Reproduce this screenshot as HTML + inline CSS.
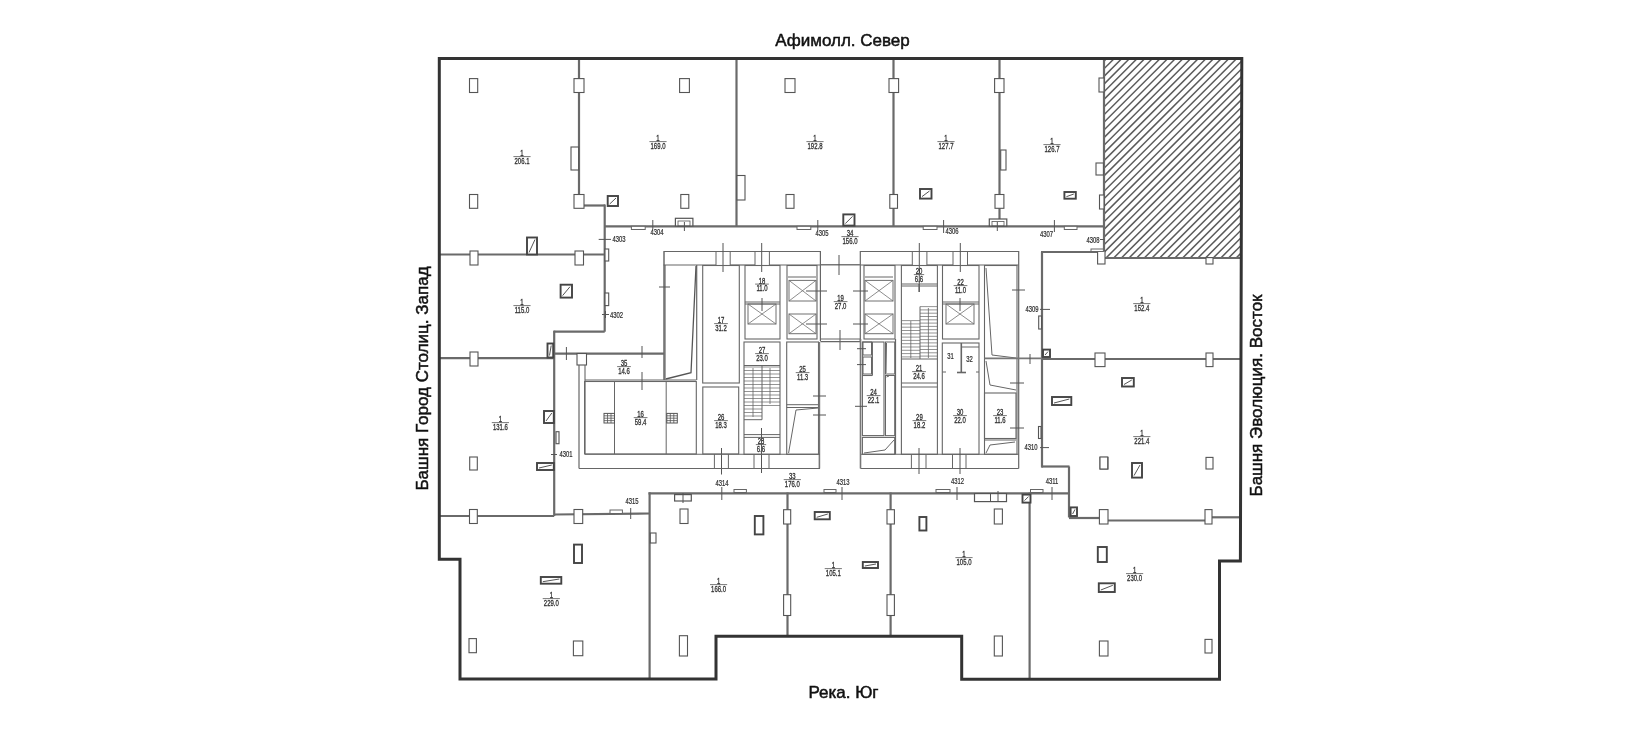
<!DOCTYPE html>
<html><head><meta charset="utf-8"><style>
html,body{margin:0;padding:0;background:#fff;width:1652px;height:749px;overflow:hidden}
svg{display:block;will-change:transform;font-family:"Liberation Sans",sans-serif}
</style></head><body><svg width="1652" height="749" viewBox="0 0 1652 749" font-family="Liberation Sans, sans-serif"><clipPath id="hc"><rect x="1104" y="58.5" width="137.5" height="199.5"/></clipPath><g clip-path="url(#hc)" stroke="#5a5a5a" stroke-width="1.5"><line x1="685.3" y1="258" x2="884.8" y2="58.5"/><line x1="692.9" y1="258" x2="892.4" y2="58.5"/><line x1="700.6" y1="258" x2="900.1" y2="58.5"/><line x1="708.2" y1="258" x2="907.7" y2="58.5"/><line x1="715.9" y1="258" x2="915.4" y2="58.5"/><line x1="723.5" y1="258" x2="923.0" y2="58.5"/><line x1="731.2" y1="258" x2="930.7" y2="58.5"/><line x1="738.8" y1="258" x2="938.3" y2="58.5"/><line x1="746.5" y1="258" x2="946.0" y2="58.5"/><line x1="754.1" y1="258" x2="953.6" y2="58.5"/><line x1="761.8" y1="258" x2="961.3" y2="58.5"/><line x1="769.4" y1="258" x2="968.9" y2="58.5"/><line x1="777.1" y1="258" x2="976.6" y2="58.5"/><line x1="784.7" y1="258" x2="984.2" y2="58.5"/><line x1="792.4" y1="258" x2="991.9" y2="58.5"/><line x1="800.0" y1="258" x2="999.5" y2="58.5"/><line x1="807.7" y1="258" x2="1007.2" y2="58.5"/><line x1="815.3" y1="258" x2="1014.8" y2="58.5"/><line x1="823.0" y1="258" x2="1022.5" y2="58.5"/><line x1="830.6" y1="258" x2="1030.1" y2="58.5"/><line x1="838.3" y1="258" x2="1037.8" y2="58.5"/><line x1="845.9" y1="258" x2="1045.4" y2="58.5"/><line x1="853.6" y1="258" x2="1053.1" y2="58.5"/><line x1="861.2" y1="258" x2="1060.7" y2="58.5"/><line x1="868.9" y1="258" x2="1068.4" y2="58.5"/><line x1="876.5" y1="258" x2="1076.0" y2="58.5"/><line x1="884.2" y1="258" x2="1083.7" y2="58.5"/><line x1="891.8" y1="258" x2="1091.3" y2="58.5"/><line x1="899.5" y1="258" x2="1099.0" y2="58.5"/><line x1="907.1" y1="258" x2="1106.6" y2="58.5"/><line x1="914.8" y1="258" x2="1114.3" y2="58.5"/><line x1="922.4" y1="258" x2="1121.9" y2="58.5"/><line x1="930.1" y1="258" x2="1129.6" y2="58.5"/><line x1="937.7" y1="258" x2="1137.2" y2="58.5"/><line x1="945.4" y1="258" x2="1144.9" y2="58.5"/><line x1="953.0" y1="258" x2="1152.5" y2="58.5"/><line x1="960.7" y1="258" x2="1160.2" y2="58.5"/><line x1="968.3" y1="258" x2="1167.8" y2="58.5"/><line x1="976.0" y1="258" x2="1175.5" y2="58.5"/><line x1="983.6" y1="258" x2="1183.1" y2="58.5"/><line x1="991.3" y1="258" x2="1190.8" y2="58.5"/><line x1="998.9" y1="258" x2="1198.4" y2="58.5"/><line x1="1006.6" y1="258" x2="1206.1" y2="58.5"/><line x1="1014.2" y1="258" x2="1213.7" y2="58.5"/><line x1="1021.9" y1="258" x2="1221.4" y2="58.5"/><line x1="1029.5" y1="258" x2="1229.0" y2="58.5"/><line x1="1037.2" y1="258" x2="1236.7" y2="58.5"/><line x1="1044.8" y1="258" x2="1244.3" y2="58.5"/><line x1="1052.5" y1="258" x2="1252.0" y2="58.5"/><line x1="1060.1" y1="258" x2="1259.6" y2="58.5"/><line x1="1067.8" y1="258" x2="1267.3" y2="58.5"/><line x1="1075.4" y1="258" x2="1274.9" y2="58.5"/><line x1="1083.1" y1="258" x2="1282.6" y2="58.5"/><line x1="1090.7" y1="258" x2="1290.2" y2="58.5"/><line x1="1098.4" y1="258" x2="1297.9" y2="58.5"/><line x1="1106.0" y1="258" x2="1305.5" y2="58.5"/><line x1="1113.7" y1="258" x2="1313.2" y2="58.5"/><line x1="1121.4" y1="258" x2="1320.9" y2="58.5"/><line x1="1129.0" y1="258" x2="1328.5" y2="58.5"/><line x1="1136.7" y1="258" x2="1336.2" y2="58.5"/><line x1="1144.3" y1="258" x2="1343.8" y2="58.5"/><line x1="1152.0" y1="258" x2="1351.5" y2="58.5"/><line x1="1159.6" y1="258" x2="1359.1" y2="58.5"/><line x1="1167.3" y1="258" x2="1366.8" y2="58.5"/><line x1="1174.9" y1="258" x2="1374.4" y2="58.5"/><line x1="1182.6" y1="258" x2="1382.1" y2="58.5"/><line x1="1190.2" y1="258" x2="1389.7" y2="58.5"/><line x1="1197.9" y1="258" x2="1397.4" y2="58.5"/><line x1="1205.5" y1="258" x2="1405.0" y2="58.5"/><line x1="1213.2" y1="258" x2="1412.7" y2="58.5"/><line x1="1220.8" y1="258" x2="1420.3" y2="58.5"/><line x1="1228.5" y1="258" x2="1428.0" y2="58.5"/><line x1="1236.1" y1="258" x2="1435.6" y2="58.5"/><line x1="1243.8" y1="258" x2="1443.3" y2="58.5"/></g><line x1="579" y1="58" x2="579" y2="205.5" stroke="#6a6a6a" stroke-width="2.2"/><line x1="579" y1="205.5" x2="605" y2="205.5" stroke="#6a6a6a" stroke-width="2.2"/><line x1="604.7" y1="204.5" x2="604.7" y2="331.7" stroke="#6a6a6a" stroke-width="2.2"/><line x1="553.7" y1="331.7" x2="604.7" y2="331.7" stroke="#6a6a6a" stroke-width="2.2"/><line x1="554.2" y1="330.7" x2="554.2" y2="516" stroke="#6a6a6a" stroke-width="2.2"/><line x1="439" y1="254.5" x2="604.7" y2="254.5" stroke="#6a6a6a" stroke-width="2.2"/><line x1="439" y1="358.2" x2="554" y2="358.2" stroke="#6a6a6a" stroke-width="2.2"/><line x1="439" y1="516" x2="554.2" y2="516" stroke="#6a6a6a" stroke-width="2.2"/><line x1="554.2" y1="514.5" x2="649.6" y2="513.5" stroke="#6a6a6a" stroke-width="2.2"/><line x1="649.6" y1="492.3" x2="649.6" y2="679" stroke="#6a6a6a" stroke-width="2.2"/><line x1="648.5" y1="493.3" x2="1069.5" y2="493.3" stroke="#6a6a6a" stroke-width="2.2"/><line x1="1069" y1="466.5" x2="1069" y2="517.5" stroke="#6a6a6a" stroke-width="2.2"/><line x1="1041.5" y1="466.5" x2="1069.5" y2="466.5" stroke="#6a6a6a" stroke-width="2.2"/><line x1="1042" y1="251.7" x2="1042" y2="467.5" stroke="#6a6a6a" stroke-width="2.2"/><line x1="1041" y1="252" x2="1104" y2="252" stroke="#6a6a6a" stroke-width="2.2"/><line x1="1069" y1="518" x2="1099.5" y2="518" stroke="#6a6a6a" stroke-width="2.2"/><line x1="1108" y1="520.5" x2="1205" y2="520.5" stroke="#6a6a6a" stroke-width="2.2"/><line x1="1212" y1="517.3" x2="1241" y2="517.3" stroke="#6a6a6a" stroke-width="2.2"/><line x1="1042" y1="359" x2="1241" y2="359" stroke="#6a6a6a" stroke-width="2.2"/><line x1="1029.6" y1="492.5" x2="1029.6" y2="679.4" stroke="#6a6a6a" stroke-width="2.2"/><line x1="890.6" y1="492.5" x2="890.6" y2="635.7" stroke="#6a6a6a" stroke-width="2.2"/><line x1="787.5" y1="492.5" x2="787.5" y2="635.7" stroke="#6a6a6a" stroke-width="2.2"/><line x1="604.5" y1="226.3" x2="1104" y2="226.3" stroke="#6a6a6a" stroke-width="2.2"/><line x1="736.5" y1="58" x2="736.5" y2="226.3" stroke="#6a6a6a" stroke-width="2.2"/><line x1="893.5" y1="58" x2="893.5" y2="226.3" stroke="#6a6a6a" stroke-width="2.2"/><line x1="999.5" y1="58" x2="999.5" y2="226.3" stroke="#6a6a6a" stroke-width="2.2"/><line x1="1104" y1="58" x2="1104" y2="258" stroke="#6a6a6a" stroke-width="2.2"/><line x1="1104" y1="258" x2="1241" y2="258" stroke="#6a6a6a" stroke-width="2.2"/><line x1="553.7" y1="353.6" x2="664" y2="353.6" stroke="#6a6a6a" stroke-width="2.2"/><line x1="664" y1="251.5" x2="664" y2="380" stroke="#6a6a6a" stroke-width="1.5"/><polygon points="439.3,58.4 1241.8,58.4 1240.4,561 1219.5,561 1219.5,679.2 961.7,679.2 961.7,636.3 716,636.3 716,679 460,679 460,559.3 439.3,559.3" fill="none" stroke="#333" stroke-width="3.0" stroke-linejoin="miter"/><rect x="469.5" y="78.6" width="8.199999999999989" height="13.900000000000006" fill="#fff" stroke="#555" stroke-width="1.1"/><rect x="574" y="78.6" width="10" height="13.900000000000006" fill="#fff" stroke="#555" stroke-width="1.1"/><rect x="679.6" y="78.6" width="9.799999999999955" height="13.900000000000006" fill="#fff" stroke="#555" stroke-width="1.1"/><rect x="785" y="78.6" width="10" height="13.900000000000006" fill="#fff" stroke="#555" stroke-width="1.1"/><rect x="889" y="78.6" width="9.600000000000023" height="13.900000000000006" fill="#fff" stroke="#555" stroke-width="1.1"/><rect x="994.6" y="78.6" width="9.399999999999977" height="13.900000000000006" fill="#fff" stroke="#555" stroke-width="1.1"/><rect x="1099" y="78" width="5" height="14" fill="#fff" stroke="#555" stroke-width="1.1"/><rect x="469.5" y="194.5" width="8.199999999999989" height="13.800000000000011" fill="#fff" stroke="#555" stroke-width="1.1"/><rect x="574" y="194.5" width="10" height="13.800000000000011" fill="#fff" stroke="#555" stroke-width="1.1"/><rect x="680.8" y="194.5" width="8.0" height="13.800000000000011" fill="#fff" stroke="#555" stroke-width="1.1"/><rect x="786" y="194.5" width="8" height="13.800000000000011" fill="#fff" stroke="#555" stroke-width="1.1"/><rect x="889.8" y="194.5" width="7.7000000000000455" height="13.800000000000011" fill="#fff" stroke="#555" stroke-width="1.1"/><rect x="995" y="194.5" width="8.899999999999977" height="13.800000000000011" fill="#fff" stroke="#555" stroke-width="1.1"/><rect x="1099.5" y="195" width="4.5" height="14" fill="#fff" stroke="#555" stroke-width="1.1"/><rect x="470" y="251" width="8" height="14" fill="#fff" stroke="#555" stroke-width="1.1"/><rect x="575" y="251" width="8.5" height="14" fill="#fff" stroke="#555" stroke-width="1.1"/><rect x="470" y="352" width="8" height="14" fill="#fff" stroke="#555" stroke-width="1.1"/><rect x="577" y="353.5" width="9.5" height="11.5" fill="#fff" stroke="#555" stroke-width="1.1"/><rect x="469.7" y="457" width="7.600000000000023" height="13" fill="#fff" stroke="#555" stroke-width="1.1"/><rect x="469.5" y="509.5" width="7.800000000000011" height="14.0" fill="#fff" stroke="#555" stroke-width="1.1"/><rect x="574" y="509.5" width="8.700000000000045" height="14.0" fill="#fff" stroke="#555" stroke-width="1.1"/><rect x="469" y="638.6" width="7.399999999999977" height="14.100000000000023" fill="#fff" stroke="#555" stroke-width="1.1"/><rect x="573.4" y="641" width="9.399999999999977" height="14.700000000000045" fill="#fff" stroke="#555" stroke-width="1.1"/><rect x="680" y="509" width="8" height="14.5" fill="#fff" stroke="#555" stroke-width="1.1"/><rect x="679.4" y="635.7" width="8.100000000000023" height="20.299999999999955" fill="#fff" stroke="#555" stroke-width="1.1"/><rect x="783.6" y="509.7" width="7.100000000000023" height="14.300000000000011" fill="#fff" stroke="#555" stroke-width="1.1"/><rect x="783.6" y="594.7" width="7.100000000000023" height="20.799999999999955" fill="#fff" stroke="#555" stroke-width="1.1"/><rect x="887" y="509.7" width="7.399999999999977" height="14.300000000000011" fill="#fff" stroke="#555" stroke-width="1.1"/><rect x="887" y="594.7" width="7.399999999999977" height="20.799999999999955" fill="#fff" stroke="#555" stroke-width="1.1"/><rect x="994.3" y="509" width="8.100000000000023" height="15" fill="#fff" stroke="#555" stroke-width="1.1"/><rect x="994.3" y="636" width="8.100000000000023" height="20" fill="#fff" stroke="#555" stroke-width="1.1"/><rect x="1099.4" y="509.6" width="8.599999999999909" height="14.399999999999977" fill="#fff" stroke="#555" stroke-width="1.1"/><rect x="1205" y="509.6" width="7" height="14.399999999999977" fill="#fff" stroke="#555" stroke-width="1.1"/><rect x="1099.4" y="641" width="8.599999999999909" height="15" fill="#fff" stroke="#555" stroke-width="1.1"/><rect x="1205" y="639.4" width="7" height="13.600000000000023" fill="#fff" stroke="#555" stroke-width="1.1"/><rect x="1097.6" y="251" width="7.400000000000091" height="13" fill="#fff" stroke="#555" stroke-width="1.1"/><rect x="1206" y="257.6" width="7" height="6.399999999999977" fill="#fff" stroke="#555" stroke-width="1.1"/><rect x="1095" y="353" width="10" height="13.600000000000023" fill="#fff" stroke="#555" stroke-width="1.1"/><rect x="1206" y="353" width="7" height="13.600000000000023" fill="#fff" stroke="#555" stroke-width="1.1"/><rect x="1100" y="457.4" width="8" height="11.600000000000023" fill="#fff" stroke="#555" stroke-width="1.1"/><rect x="1206" y="457.4" width="7" height="11.600000000000023" fill="#fff" stroke="#555" stroke-width="1.1"/><rect x="1100" y="457" width="7.7000000000000455" height="12" fill="#fff" stroke="#555" stroke-width="1.1"/><rect x="571" y="147" width="7.600000000000023" height="23" fill="#fff" stroke="#555" stroke-width="1.1"/><rect x="737" y="175.5" width="8" height="24.5" fill="#fff" stroke="#555" stroke-width="1.1"/><rect x="1000.7" y="150" width="5.2999999999999545" height="20" fill="#fff" stroke="#555" stroke-width="1.1"/><rect x="1096" y="163" width="7.400000000000091" height="12" fill="#fff" stroke="#555" stroke-width="1.1"/><rect x="605" y="249" width="3.7000000000000455" height="12" fill="#fff" stroke="#555" stroke-width="1.1"/><rect x="605" y="293" width="3.7000000000000455" height="12.600000000000023" fill="#fff" stroke="#555" stroke-width="1.1"/><rect x="547.5" y="343.5" width="5.7000000000000455" height="14.0" fill="#fff" stroke="#444" stroke-width="1.9"/><line x1="549.5" y1="355.5" x2="551.2" y2="345.5" stroke="#555" stroke-width="1"/><rect x="556" y="431.7" width="3" height="12.0" fill="#fff" stroke="#555" stroke-width="1.1"/><rect x="1038.7" y="316" width="2.7999999999999545" height="13" fill="#fff" stroke="#555" stroke-width="1.1"/><rect x="1038.5" y="426.5" width="2.5" height="12.0" fill="#fff" stroke="#555" stroke-width="1.1"/><rect x="650.3" y="533" width="5.7000000000000455" height="10" fill="#fff" stroke="#555" stroke-width="1.1"/><rect x="607.7" y="196" width="10.299999999999955" height="10" fill="#fff" stroke="#444" stroke-width="1.9"/><line x1="609.7" y1="204" x2="616" y2="198" stroke="#555" stroke-width="1"/><rect x="920" y="189" width="11.5" height="9.599999999999994" fill="#fff" stroke="#444" stroke-width="1.9"/><line x1="922" y1="196.6" x2="929.5" y2="191" stroke="#555" stroke-width="1"/><rect x="1064.4" y="192" width="11.399999999999864" height="6.699999999999989" fill="#fff" stroke="#444" stroke-width="1.9"/><line x1="1066.4" y1="196.7" x2="1073.8" y2="194" stroke="#555" stroke-width="1"/><rect x="560.6" y="284.7" width="11.399999999999977" height="12.900000000000034" fill="#fff" stroke="#444" stroke-width="1.9"/><line x1="562.6" y1="295.6" x2="570" y2="286.7" stroke="#555" stroke-width="1"/><rect x="527" y="237.5" width="10" height="17.0" fill="#fff" stroke="#444" stroke-width="1.9"/><line x1="529" y1="252.5" x2="535" y2="239.5" stroke="#555" stroke-width="1"/><rect x="544" y="411" width="9.799999999999955" height="12" fill="#fff" stroke="#444" stroke-width="1.9"/><line x1="546" y1="421" x2="551.8" y2="413" stroke="#555" stroke-width="1"/><rect x="537" y="463" width="16.799999999999955" height="7" fill="#fff" stroke="#444" stroke-width="1.9"/><line x1="539" y1="468" x2="551.8" y2="465" stroke="#555" stroke-width="1"/><rect x="574" y="544.6" width="8" height="18.399999999999977" fill="#fff" stroke="#444" stroke-width="1.9"/><rect x="540.8" y="577" width="20.5" height="6.7000000000000455" fill="#fff" stroke="#444" stroke-width="1.9"/><line x1="542.8" y1="581.7" x2="559.3" y2="579" stroke="#555" stroke-width="1"/><rect x="754.8" y="516" width="8.600000000000023" height="18.399999999999977" fill="#fff" stroke="#444" stroke-width="1.9"/><rect x="814.7" y="512" width="15.099999999999909" height="7.2999999999999545" fill="#fff" stroke="#444" stroke-width="1.9"/><line x1="816.7" y1="517.3" x2="827.8" y2="514" stroke="#555" stroke-width="1"/><rect x="862.8" y="562" width="15.200000000000045" height="6" fill="#fff" stroke="#444" stroke-width="1.9"/><line x1="864.8" y1="566" x2="876" y2="564" stroke="#555" stroke-width="1"/><rect x="919.4" y="517" width="7.0" height="13.5" fill="#fff" stroke="#444" stroke-width="1.9"/><rect x="1097.8" y="547" width="9.0" height="15" fill="#fff" stroke="#444" stroke-width="1.9"/><rect x="1098.8" y="583.3" width="16.0" height="8.700000000000045" fill="#fff" stroke="#444" stroke-width="1.9"/><line x1="1100.8" y1="590" x2="1112.8" y2="585.3" stroke="#555" stroke-width="1"/><rect x="1122" y="378" width="11.799999999999955" height="8.5" fill="#fff" stroke="#444" stroke-width="1.9"/><line x1="1124" y1="384.5" x2="1131.8" y2="380" stroke="#555" stroke-width="1"/><rect x="1052" y="397" width="19.299999999999955" height="8" fill="#fff" stroke="#444" stroke-width="1.9"/><line x1="1054" y1="403" x2="1069.3" y2="399" stroke="#555" stroke-width="1"/><rect x="1132" y="463" width="10" height="14.600000000000023" fill="#fff" stroke="#444" stroke-width="1.9"/><line x1="1134" y1="475.6" x2="1140" y2="465" stroke="#555" stroke-width="1"/><rect x="1070.6" y="507.4" width="6.400000000000091" height="8.600000000000023" fill="#fff" stroke="#444" stroke-width="1.9"/><line x1="1072.6" y1="514" x2="1075" y2="509.4" stroke="#555" stroke-width="1"/><rect x="1043" y="349.6" width="7" height="7.399999999999977" fill="#fff" stroke="#444" stroke-width="1.9"/><line x1="1045" y1="355" x2="1048" y2="351.6" stroke="#555" stroke-width="1"/><rect x="843.3" y="214.4" width="11.200000000000045" height="11.199999999999989" fill="#fff" stroke="#444" stroke-width="1.9"/><line x1="845.3" y1="223.6" x2="852.5" y2="216.4" stroke="#555" stroke-width="1"/><rect x="1022.5" y="494.6" width="8.0" height="8.0" fill="#fff" stroke="#444" stroke-width="1.9"/><line x1="1024.5" y1="500.6" x2="1028.5" y2="496.6" stroke="#555" stroke-width="1"/><rect x="631.4" y="226.3" width="13.800000000000068" height="3.1999999999999886" fill="#fff" stroke="#666" stroke-width="1"/><rect x="797" y="226.3" width="13.799999999999955" height="3.1999999999999886" fill="#fff" stroke="#666" stroke-width="1"/><rect x="923.2" y="226.3" width="13.799999999999955" height="3.1999999999999886" fill="#fff" stroke="#666" stroke-width="1"/><rect x="1064.3" y="226.3" width="12.700000000000045" height="3.1999999999999886" fill="#fff" stroke="#666" stroke-width="1"/><rect x="734" y="489.5" width="12.399999999999977" height="3.0" fill="#fff" stroke="#666" stroke-width="1"/><rect x="824" y="489.5" width="12" height="3.0" fill="#fff" stroke="#666" stroke-width="1"/><rect x="936" y="489.5" width="14" height="3.0" fill="#fff" stroke="#666" stroke-width="1"/><rect x="1030.5" y="489.5" width="12.5" height="3.0" fill="#fff" stroke="#666" stroke-width="1"/><rect x="610" y="510" width="12.399999999999977" height="3.5" fill="#fff" stroke="#666" stroke-width="1"/><rect x="675.4" y="218.3" width="17.5" height="7.699999999999989" fill="#fff" stroke="#555" stroke-width="1.2"/><rect x="678" y="221" width="12" height="5" fill="none" stroke="#555" stroke-width="0.8"/><rect x="989.3" y="219" width="17.5" height="7" fill="#fff" stroke="#555" stroke-width="1.2"/><rect x="992" y="221.5" width="12" height="4.5" fill="none" stroke="#555" stroke-width="0.8"/><rect x="674.6" y="494.6" width="16.699999999999932" height="6.399999999999977" fill="#fff" stroke="#555" stroke-width="1.2"/><rect x="974.5" y="493.6" width="32.0" height="8.0" fill="#fff" stroke="#555" stroke-width="1.2"/><line x1="990.5" y1="493.6" x2="990.5" y2="501.6" stroke="#555" stroke-width="1"/><line x1="652.8" y1="220" x2="652.8" y2="229" stroke="#555" stroke-width="1"/><text x="938.57" y="235.5" transform="scale(0.7,1)" font-size="8.4" text-anchor="middle" fill="#333" stroke="#333" stroke-width="0.25">4304</text><line x1="598.7" y1="239.4" x2="611" y2="239.4" stroke="#555" stroke-width="1"/><text x="884.29" y="242" transform="scale(0.7,1)" font-size="8.4" text-anchor="middle" fill="#333" stroke="#333" stroke-width="0.25">4303</text><line x1="817.8" y1="220" x2="817.8" y2="230" stroke="#555" stroke-width="1"/><text x="1174.29" y="236" transform="scale(0.7,1)" font-size="8.4" text-anchor="middle" fill="#333" stroke="#333" stroke-width="0.25">4305</text><line x1="943.6" y1="220" x2="943.6" y2="233" stroke="#555" stroke-width="1"/><text x="1360.00" y="234" transform="scale(0.7,1)" font-size="8.4" text-anchor="middle" fill="#333" stroke="#333" stroke-width="0.25">4306</text><text x="1495.00" y="237.5" transform="scale(0.7,1)" font-size="8.4" text-anchor="middle" fill="#333" stroke="#333" stroke-width="0.25">4307</text><line x1="1054.4" y1="220" x2="1054.4" y2="232" stroke="#555" stroke-width="1"/><text x="1561.43" y="243" transform="scale(0.7,1)" font-size="8.4" text-anchor="middle" fill="#333" stroke="#333" stroke-width="0.25">4308</text><line x1="1100" y1="239.5" x2="1104.5" y2="239.5" stroke="#555" stroke-width="1"/><rect x="1091" y="249" width="12.400000000000091" height="2.5" fill="#fff" stroke="#666" stroke-width="1"/><line x1="684.4" y1="222" x2="684.4" y2="231" stroke="#555" stroke-width="1"/><line x1="997.3" y1="222" x2="997.3" y2="231" stroke="#555" stroke-width="1"/><line x1="602" y1="314.5" x2="609" y2="314.5" stroke="#555" stroke-width="1"/><line x1="605.5" y1="311" x2="605.5" y2="318" stroke="#555" stroke-width="1"/><text x="880.71" y="318.5" transform="scale(0.7,1)" font-size="8.4" text-anchor="middle" fill="#333" stroke="#333" stroke-width="0.25">4302</text><text x="1474.29" y="312" transform="scale(0.7,1)" font-size="8.4" text-anchor="middle" fill="#333" stroke="#333" stroke-width="0.25">4309</text><line x1="1040" y1="309.4" x2="1050" y2="309.4" stroke="#555" stroke-width="1"/><text x="1472.86" y="450.5" transform="scale(0.7,1)" font-size="8.4" text-anchor="middle" fill="#333" stroke="#333" stroke-width="0.25">4310</text><line x1="1040" y1="447.6" x2="1049" y2="447.6" stroke="#555" stroke-width="1"/><text x="808.57" y="457.5" transform="scale(0.7,1)" font-size="8.4" text-anchor="middle" fill="#333" stroke="#333" stroke-width="0.25">4301</text><line x1="551" y1="454.5" x2="557" y2="454.5" stroke="#555" stroke-width="1"/><text x="902.86" y="504.5" transform="scale(0.7,1)" font-size="8.4" text-anchor="middle" fill="#333" stroke="#333" stroke-width="0.25">4315</text><line x1="630.7" y1="508" x2="630.7" y2="519" stroke="#555" stroke-width="1"/><text x="1031.43" y="486.5" transform="scale(0.7,1)" font-size="8.4" text-anchor="middle" fill="#333" stroke="#333" stroke-width="0.25">4314</text><line x1="721.8" y1="487" x2="721.8" y2="500" stroke="#555" stroke-width="1"/><text x="1204.29" y="485.5" transform="scale(0.7,1)" font-size="8.4" text-anchor="middle" fill="#333" stroke="#333" stroke-width="0.25">4313</text><line x1="842" y1="487" x2="842" y2="500" stroke="#555" stroke-width="1"/><text x="1367.86" y="484.5" transform="scale(0.7,1)" font-size="8.4" text-anchor="middle" fill="#333" stroke="#333" stroke-width="0.25">4312</text><line x1="957" y1="487" x2="957" y2="500" stroke="#555" stroke-width="1"/><text x="1502.86" y="484.5" transform="scale(0.7,1)" font-size="8.4" text-anchor="middle" fill="#333" stroke="#333" stroke-width="0.25">4311</text><line x1="1052" y1="487" x2="1052" y2="500" stroke="#555" stroke-width="1"/><line x1="683" y1="493" x2="683" y2="503" stroke="#555" stroke-width="1"/><line x1="998" y1="491" x2="998" y2="502" stroke="#555" stroke-width="1"/><text x="855.74" y="156.4" transform="scale(0.61,1)" font-size="9.8" text-anchor="middle" fill="#333" stroke="#333" stroke-width="0.35">1</text><text x="855.74" y="163.9" transform="scale(0.61,1)" font-size="9.8" text-anchor="middle" fill="#333" stroke="#333" stroke-width="0.35">206.1</text><line x1="513.406625" y1="156.6" x2="530.593375" y2="156.6" stroke="#555" stroke-width="0.8"/><text x="1078.69" y="141.4" transform="scale(0.61,1)" font-size="9.8" text-anchor="middle" fill="#333" stroke="#333" stroke-width="0.35">1</text><text x="1078.69" y="148.9" transform="scale(0.61,1)" font-size="9.8" text-anchor="middle" fill="#333" stroke="#333" stroke-width="0.35">169.0</text><line x1="649.406625" y1="141.6" x2="666.593375" y2="141.6" stroke="#555" stroke-width="0.8"/><text x="1336.07" y="141.4" transform="scale(0.61,1)" font-size="9.8" text-anchor="middle" fill="#333" stroke="#333" stroke-width="0.35">1</text><text x="1336.07" y="148.9" transform="scale(0.61,1)" font-size="9.8" text-anchor="middle" fill="#333" stroke="#333" stroke-width="0.35">192.8</text><line x1="806.406625" y1="141.6" x2="823.593375" y2="141.6" stroke="#555" stroke-width="0.8"/><text x="1550.82" y="141.4" transform="scale(0.61,1)" font-size="9.8" text-anchor="middle" fill="#333" stroke="#333" stroke-width="0.35">1</text><text x="1550.82" y="148.9" transform="scale(0.61,1)" font-size="9.8" text-anchor="middle" fill="#333" stroke="#333" stroke-width="0.35">127.7</text><line x1="937.406625" y1="141.6" x2="954.593375" y2="141.6" stroke="#555" stroke-width="0.8"/><text x="1724.59" y="144.4" transform="scale(0.61,1)" font-size="9.8" text-anchor="middle" fill="#333" stroke="#333" stroke-width="0.35">1</text><text x="1724.59" y="151.9" transform="scale(0.61,1)" font-size="9.8" text-anchor="middle" fill="#333" stroke="#333" stroke-width="0.35">126.7</text><line x1="1043.406625" y1="144.6" x2="1060.593375" y2="144.6" stroke="#555" stroke-width="0.8"/><text x="855.74" y="305.4" transform="scale(0.61,1)" font-size="9.8" text-anchor="middle" fill="#333" stroke="#333" stroke-width="0.35">1</text><text x="855.74" y="312.9" transform="scale(0.61,1)" font-size="9.8" text-anchor="middle" fill="#333" stroke="#333" stroke-width="0.35">115.0</text><line x1="513.406625" y1="305.6" x2="530.593375" y2="305.6" stroke="#555" stroke-width="0.8"/><text x="820.33" y="422.4" transform="scale(0.61,1)" font-size="9.8" text-anchor="middle" fill="#333" stroke="#333" stroke-width="0.35">1</text><text x="820.33" y="429.9" transform="scale(0.61,1)" font-size="9.8" text-anchor="middle" fill="#333" stroke="#333" stroke-width="0.35">131.6</text><line x1="491.806625" y1="422.6" x2="508.99337499999996" y2="422.6" stroke="#555" stroke-width="0.8"/><text x="903.77" y="598.4" transform="scale(0.61,1)" font-size="9.8" text-anchor="middle" fill="#333" stroke="#333" stroke-width="0.35">1</text><text x="903.77" y="605.9" transform="scale(0.61,1)" font-size="9.8" text-anchor="middle" fill="#333" stroke="#333" stroke-width="0.35">229.0</text><line x1="542.7066249999999" y1="598.6" x2="559.893375" y2="598.6" stroke="#555" stroke-width="0.8"/><text x="1178.03" y="584.4" transform="scale(0.61,1)" font-size="9.8" text-anchor="middle" fill="#333" stroke="#333" stroke-width="0.35">1</text><text x="1178.03" y="591.9" transform="scale(0.61,1)" font-size="9.8" text-anchor="middle" fill="#333" stroke="#333" stroke-width="0.35">166.0</text><line x1="710.006625" y1="584.6" x2="727.1933750000001" y2="584.6" stroke="#555" stroke-width="0.8"/><text x="1366.07" y="568.4" transform="scale(0.61,1)" font-size="9.8" text-anchor="middle" fill="#333" stroke="#333" stroke-width="0.35">1</text><text x="1366.07" y="575.9" transform="scale(0.61,1)" font-size="9.8" text-anchor="middle" fill="#333" stroke="#333" stroke-width="0.35">105.1</text><line x1="824.7066249999999" y1="568.6" x2="841.893375" y2="568.6" stroke="#555" stroke-width="0.8"/><text x="1580.33" y="557.4" transform="scale(0.61,1)" font-size="9.8" text-anchor="middle" fill="#333" stroke="#333" stroke-width="0.35">1</text><text x="1580.33" y="564.9" transform="scale(0.61,1)" font-size="9.8" text-anchor="middle" fill="#333" stroke="#333" stroke-width="0.35">105.0</text><line x1="955.406625" y1="557.6" x2="972.593375" y2="557.6" stroke="#555" stroke-width="0.8"/><text x="1860.00" y="573.4" transform="scale(0.61,1)" font-size="9.8" text-anchor="middle" fill="#333" stroke="#333" stroke-width="0.35">1</text><text x="1860.00" y="580.9" transform="scale(0.61,1)" font-size="9.8" text-anchor="middle" fill="#333" stroke="#333" stroke-width="0.35">230.0</text><line x1="1126.006625" y1="573.6" x2="1143.1933749999998" y2="573.6" stroke="#555" stroke-width="0.8"/><text x="1871.80" y="303.4" transform="scale(0.61,1)" font-size="9.8" text-anchor="middle" fill="#333" stroke="#333" stroke-width="0.35">1</text><text x="1871.80" y="310.9" transform="scale(0.61,1)" font-size="9.8" text-anchor="middle" fill="#333" stroke="#333" stroke-width="0.35">152.4</text><line x1="1133.206625" y1="303.6" x2="1150.3933749999999" y2="303.6" stroke="#555" stroke-width="0.8"/><text x="1871.80" y="436.4" transform="scale(0.61,1)" font-size="9.8" text-anchor="middle" fill="#333" stroke="#333" stroke-width="0.35">1</text><text x="1871.80" y="443.9" transform="scale(0.61,1)" font-size="9.8" text-anchor="middle" fill="#333" stroke="#333" stroke-width="0.35">221.4</text><line x1="1133.206625" y1="436.6" x2="1150.3933749999999" y2="436.6" stroke="#555" stroke-width="0.8"/><text x="1393.44" y="236.4" transform="scale(0.61,1)" font-size="9.8" text-anchor="middle" fill="#333" stroke="#333" stroke-width="0.35">34</text><text x="1393.44" y="243.9" transform="scale(0.61,1)" font-size="9.8" text-anchor="middle" fill="#333" stroke="#333" stroke-width="0.35">156.0</text><line x1="841.406625" y1="236.6" x2="858.593375" y2="236.6" stroke="#555" stroke-width="0.8"/><text x="1298.85" y="479.4" transform="scale(0.61,1)" font-size="9.8" text-anchor="middle" fill="#333" stroke="#333" stroke-width="0.35">33</text><text x="1298.85" y="486.9" transform="scale(0.61,1)" font-size="9.8" text-anchor="middle" fill="#333" stroke="#333" stroke-width="0.35">176.0</text><line x1="783.7066249999999" y1="479.6" x2="800.893375" y2="479.6" stroke="#555" stroke-width="0.8"/><polyline points="663.5,251.5 820.4,251.5 820.4,341" fill="none" stroke="#666" stroke-width="1.2" stroke-linejoin="miter"/><line x1="663.5" y1="265" x2="716" y2="265" stroke="#666" stroke-width="1.2"/><line x1="730.2" y1="265" x2="755" y2="265" stroke="#666" stroke-width="1.2"/><line x1="769.4" y1="265" x2="820.4" y2="265" stroke="#666" stroke-width="1.2"/><line x1="716" y1="251.5" x2="716" y2="265" stroke="#666" stroke-width="1"/><line x1="730.2" y1="251.5" x2="730.2" y2="265" stroke="#666" stroke-width="1"/><line x1="723" y1="243" x2="723" y2="272" stroke="#555" stroke-width="1"/><line x1="755" y1="251.5" x2="755" y2="265" stroke="#666" stroke-width="1"/><line x1="769.4" y1="251.5" x2="769.4" y2="265" stroke="#666" stroke-width="1"/><line x1="761.7" y1="243" x2="761.7" y2="272" stroke="#555" stroke-width="1"/><polyline points="860.3,341 860.3,251.5 1018.7,251.5 1018.7,468.5" fill="none" stroke="#666" stroke-width="1.2" stroke-linejoin="miter"/><line x1="860.3" y1="265" x2="912.3" y2="265" stroke="#666" stroke-width="1.2"/><line x1="926.9" y1="265" x2="953" y2="265" stroke="#666" stroke-width="1.2"/><line x1="967.5" y1="265" x2="1018.7" y2="265" stroke="#666" stroke-width="1.2"/><line x1="912.3" y1="251.5" x2="912.3" y2="265" stroke="#666" stroke-width="1"/><line x1="926.9" y1="251.5" x2="926.9" y2="265" stroke="#666" stroke-width="1"/><line x1="919.3" y1="243" x2="919.3" y2="292" stroke="#555" stroke-width="1"/><line x1="953" y1="251.5" x2="953" y2="265" stroke="#666" stroke-width="1"/><line x1="967.5" y1="251.5" x2="967.5" y2="265" stroke="#666" stroke-width="1"/><line x1="960.3" y1="243" x2="960.3" y2="272" stroke="#555" stroke-width="1"/><line x1="665" y1="265" x2="665" y2="380" stroke="#666" stroke-width="1.2"/><line x1="696.7" y1="265" x2="696.7" y2="380" stroke="#666" stroke-width="1.2"/><polyline points="696,266 691,372.7 665.8,379" fill="none" stroke="#555" stroke-width="1.3" stroke-linejoin="miter"/><line x1="659" y1="287" x2="670" y2="287" stroke="#555" stroke-width="1"/><rect x="702.7" y="265.5" width="36.59999999999991" height="117.5" fill="none" stroke="#666" stroke-width="1.1"/><text x="1181.97" y="323.4" transform="scale(0.61,1)" font-size="9.8" text-anchor="middle" fill="#333" stroke="#333" stroke-width="0.35">17</text><text x="1181.97" y="330.9" transform="scale(0.61,1)" font-size="9.8" text-anchor="middle" fill="#333" stroke="#333" stroke-width="0.35">31.2</text><line x1="714.1253" y1="323.6" x2="727.8747" y2="323.6" stroke="#555" stroke-width="0.8"/><rect x="702.8" y="387" width="35.90000000000009" height="67" fill="none" stroke="#666" stroke-width="1.1"/><text x="1181.97" y="420.4" transform="scale(0.61,1)" font-size="9.8" text-anchor="middle" fill="#333" stroke="#333" stroke-width="0.35">26</text><text x="1181.97" y="427.9" transform="scale(0.61,1)" font-size="9.8" text-anchor="middle" fill="#333" stroke="#333" stroke-width="0.35">18.3</text><line x1="714.1253" y1="420.6" x2="727.8747" y2="420.6" stroke="#555" stroke-width="0.8"/><line x1="714.4" y1="454" x2="714.4" y2="468.5" stroke="#666" stroke-width="1"/><line x1="728.4" y1="454" x2="728.4" y2="468.5" stroke="#666" stroke-width="1"/><line x1="721.5" y1="448" x2="721.5" y2="474.5" stroke="#555" stroke-width="1"/><rect x="745" y="265.5" width="35" height="73.5" fill="none" stroke="#666" stroke-width="1.1"/><line x1="745" y1="302" x2="780" y2="302" stroke="#666" stroke-width="1"/><line x1="745" y1="304" x2="780" y2="304" stroke="#666" stroke-width="1"/><rect x="748" y="304" width="28" height="20" fill="none" stroke="#707070" stroke-width="1"/><line x1="748" y1="304" x2="776" y2="324" stroke="#707070" stroke-width="0.8"/><line x1="748" y1="324" x2="776" y2="304" stroke="#707070" stroke-width="0.8"/><text x="1249.18" y="283.9" transform="scale(0.61,1)" font-size="9.8" text-anchor="middle" fill="#333" stroke="#333" stroke-width="0.35">18</text><text x="1249.18" y="291.4" transform="scale(0.61,1)" font-size="9.8" text-anchor="middle" fill="#333" stroke="#333" stroke-width="0.35">11.0</text><line x1="755.1253" y1="284.1" x2="768.8747" y2="284.1" stroke="#555" stroke-width="0.8"/><line x1="762" y1="298" x2="762" y2="311" stroke="#555" stroke-width="1"/><rect x="744" y="342" width="36" height="112.30000000000001" fill="none" stroke="#666" stroke-width="1.1"/><line x1="744" y1="365.5" x2="780" y2="365.5" stroke="#666" stroke-width="1"/><text x="1249.18" y="353.4" transform="scale(0.61,1)" font-size="9.8" text-anchor="middle" fill="#333" stroke="#333" stroke-width="0.35">27</text><text x="1249.18" y="360.9" transform="scale(0.61,1)" font-size="9.8" text-anchor="middle" fill="#333" stroke="#333" stroke-width="0.35">23.0</text><line x1="755.1253" y1="353.6" x2="768.8747" y2="353.6" stroke="#555" stroke-width="0.8"/><line x1="744" y1="367.0" x2="762" y2="367.0" stroke="#666" stroke-width="0.7"/><line x1="762" y1="367.0" x2="780" y2="367.0" stroke="#666" stroke-width="0.7"/><line x1="744" y1="370.5" x2="762" y2="370.5" stroke="#666" stroke-width="0.7"/><line x1="762" y1="370.5" x2="780" y2="370.5" stroke="#666" stroke-width="0.7"/><line x1="744" y1="374.0" x2="762" y2="374.0" stroke="#666" stroke-width="0.7"/><line x1="762" y1="374.0" x2="780" y2="374.0" stroke="#666" stroke-width="0.7"/><line x1="744" y1="377.5" x2="762" y2="377.5" stroke="#666" stroke-width="0.7"/><line x1="762" y1="377.5" x2="780" y2="377.5" stroke="#666" stroke-width="0.7"/><line x1="744" y1="381.0" x2="762" y2="381.0" stroke="#666" stroke-width="0.7"/><line x1="762" y1="381.0" x2="780" y2="381.0" stroke="#666" stroke-width="0.7"/><line x1="744" y1="384.5" x2="762" y2="384.5" stroke="#666" stroke-width="0.7"/><line x1="762" y1="384.5" x2="780" y2="384.5" stroke="#666" stroke-width="0.7"/><line x1="744" y1="388.0" x2="762" y2="388.0" stroke="#666" stroke-width="0.7"/><line x1="762" y1="388.0" x2="780" y2="388.0" stroke="#666" stroke-width="0.7"/><line x1="744" y1="391.5" x2="762" y2="391.5" stroke="#666" stroke-width="0.7"/><line x1="762" y1="391.5" x2="780" y2="391.5" stroke="#666" stroke-width="0.7"/><line x1="744" y1="395.0" x2="762" y2="395.0" stroke="#666" stroke-width="0.7"/><line x1="762" y1="395.0" x2="780" y2="395.0" stroke="#666" stroke-width="0.7"/><line x1="744" y1="398.5" x2="762" y2="398.5" stroke="#666" stroke-width="0.7"/><line x1="762" y1="398.5" x2="780" y2="398.5" stroke="#666" stroke-width="0.7"/><line x1="744" y1="402.0" x2="762" y2="402.0" stroke="#666" stroke-width="0.7"/><line x1="762" y1="402.0" x2="780" y2="402.0" stroke="#666" stroke-width="0.7"/><line x1="744" y1="405.5" x2="762" y2="405.5" stroke="#666" stroke-width="0.7"/><line x1="762" y1="405.5" x2="780" y2="405.5" stroke="#666" stroke-width="0.7"/><line x1="744" y1="409.0" x2="762" y2="409.0" stroke="#666" stroke-width="0.7"/><line x1="744" y1="412.5" x2="762" y2="412.5" stroke="#666" stroke-width="0.7"/><line x1="744" y1="416.0" x2="762" y2="416.0" stroke="#666" stroke-width="0.7"/><line x1="762" y1="365.5" x2="762" y2="419.7" stroke="#666" stroke-width="1"/><line x1="744" y1="419.7" x2="762" y2="419.7" stroke="#666" stroke-width="1"/><line x1="770" y1="368" x2="770" y2="404" stroke="#666" stroke-width="0.8"/><line x1="753" y1="368" x2="753" y2="417" stroke="#666" stroke-width="0.8"/><line x1="744" y1="434.6" x2="780" y2="434.6" stroke="#666" stroke-width="1"/><line x1="744" y1="437.4" x2="780" y2="437.4" stroke="#666" stroke-width="1"/><text x="1247.54" y="444.4" transform="scale(0.61,1)" font-size="9.8" text-anchor="middle" fill="#333" stroke="#333" stroke-width="0.35">28</text><text x="1247.54" y="451.9" transform="scale(0.61,1)" font-size="9.8" text-anchor="middle" fill="#333" stroke="#333" stroke-width="0.35">6.6</text><line x1="755.843975" y1="444.6" x2="766.156025" y2="444.6" stroke="#555" stroke-width="0.8"/><line x1="761.5" y1="428" x2="761.5" y2="473" stroke="#555" stroke-width="1"/><line x1="754" y1="454.3" x2="754" y2="468.5" stroke="#666" stroke-width="1"/><line x1="769" y1="454.3" x2="769" y2="468.5" stroke="#666" stroke-width="1"/><rect x="787" y="265.5" width="30" height="73.5" fill="none" stroke="#666" stroke-width="1.1"/><rect x="789" y="280.4" width="27" height="20.600000000000023" fill="none" stroke="#707070" stroke-width="1"/><line x1="789" y1="280.4" x2="816" y2="301" stroke="#707070" stroke-width="0.8"/><line x1="789" y1="301" x2="816" y2="280.4" stroke="#707070" stroke-width="0.8"/><rect x="789" y="314" width="27" height="19.69999999999999" fill="none" stroke="#707070" stroke-width="1"/><line x1="789" y1="314" x2="816" y2="333.7" stroke="#707070" stroke-width="0.8"/><line x1="789" y1="333.7" x2="816" y2="314" stroke="#707070" stroke-width="0.8"/><line x1="788" y1="277" x2="816" y2="277" stroke="#666" stroke-width="1"/><line x1="806" y1="291" x2="827" y2="291" stroke="#555" stroke-width="1"/><line x1="806" y1="324" x2="827" y2="324" stroke="#555" stroke-width="1"/><line x1="820.8" y1="264.8" x2="860.3" y2="264.8" stroke="#777" stroke-width="1.6"/><text x="1378.03" y="301.4" transform="scale(0.61,1)" font-size="9.8" text-anchor="middle" fill="#333" stroke="#333" stroke-width="0.35">19</text><text x="1378.03" y="308.9" transform="scale(0.61,1)" font-size="9.8" text-anchor="middle" fill="#333" stroke="#333" stroke-width="0.35">27.0</text><line x1="833.7253000000001" y1="301.6" x2="847.4747" y2="301.6" stroke="#555" stroke-width="0.8"/><line x1="839" y1="255" x2="839" y2="275" stroke="#555" stroke-width="1"/><line x1="840" y1="330" x2="840" y2="350" stroke="#555" stroke-width="1"/><line x1="820.4" y1="339" x2="860.5" y2="339" stroke="#666" stroke-width="1.0"/><line x1="820.4" y1="341.6" x2="860.5" y2="341.6" stroke="#666" stroke-width="1.2"/><rect x="786.7" y="342" width="31.799999999999955" height="112.30000000000001" fill="none" stroke="#666" stroke-width="1.1"/><line x1="786.7" y1="404.7" x2="818.5" y2="404.7" stroke="#666" stroke-width="1"/><line x1="786.7" y1="407.5" x2="818.5" y2="407.5" stroke="#666" stroke-width="1"/><text x="1315.74" y="372.4" transform="scale(0.61,1)" font-size="9.8" text-anchor="middle" fill="#333" stroke="#333" stroke-width="0.35">25</text><text x="1315.74" y="379.9" transform="scale(0.61,1)" font-size="9.8" text-anchor="middle" fill="#333" stroke="#333" stroke-width="0.35">11.3</text><line x1="795.7253000000001" y1="372.6" x2="809.4747" y2="372.6" stroke="#555" stroke-width="0.8"/><polyline points="788.6,453 796,410 818,408" fill="none" stroke="#666" stroke-width="1" stroke-linejoin="miter"/><line x1="819.4" y1="342" x2="819.4" y2="468.5" stroke="#777" stroke-width="1.6"/><line x1="813" y1="396" x2="826" y2="396" stroke="#555" stroke-width="1"/><line x1="813" y1="415" x2="826" y2="415" stroke="#555" stroke-width="1"/><line x1="579" y1="365" x2="579" y2="468.5" stroke="#666" stroke-width="1.2"/><line x1="585" y1="365" x2="585" y2="454" stroke="#666" stroke-width="1.1"/><line x1="585" y1="380" x2="696.3" y2="380" stroke="#666" stroke-width="1.1"/><rect x="584.6" y="381.5" width="111.69999999999993" height="72.5" fill="none" stroke="#666" stroke-width="1.1"/><line x1="614.5" y1="381.5" x2="614.5" y2="454" stroke="#666" stroke-width="1"/><line x1="666.2" y1="381.5" x2="666.2" y2="454" stroke="#666" stroke-width="1"/><text x="1022.95" y="366.4" transform="scale(0.61,1)" font-size="9.8" text-anchor="middle" fill="#333" stroke="#333" stroke-width="0.35">35</text><text x="1022.95" y="373.9" transform="scale(0.61,1)" font-size="9.8" text-anchor="middle" fill="#333" stroke="#333" stroke-width="0.35">14.6</text><line x1="617.1253" y1="366.6" x2="630.8747" y2="366.6" stroke="#555" stroke-width="0.8"/><text x="1050.16" y="417.4" transform="scale(0.61,1)" font-size="9.8" text-anchor="middle" fill="#333" stroke="#333" stroke-width="0.35">16</text><text x="1050.16" y="424.9" transform="scale(0.61,1)" font-size="9.8" text-anchor="middle" fill="#333" stroke="#333" stroke-width="0.35">59.4</text><line x1="633.7253000000001" y1="417.6" x2="647.4747" y2="417.6" stroke="#555" stroke-width="0.8"/><rect x="604" y="413.4" width="10.5" height="9.600000000000023" fill="none" stroke="#555" stroke-width="1.0"/><line x1="604" y1="415.79999999999995" x2="614.5" y2="415.79999999999995" stroke="#555" stroke-width="0.8"/><line x1="604" y1="418.2" x2="614.5" y2="418.2" stroke="#555" stroke-width="0.8"/><line x1="604" y1="420.59999999999997" x2="614.5" y2="420.59999999999997" stroke="#555" stroke-width="0.8"/><line x1="607.5" y1="413.4" x2="607.5" y2="423" stroke="#555" stroke-width="0.8"/><line x1="611" y1="413.4" x2="611" y2="423" stroke="#555" stroke-width="0.8"/><rect x="666.8" y="413.4" width="10.5" height="9.600000000000023" fill="none" stroke="#555" stroke-width="1.0"/><line x1="666.8" y1="415.79999999999995" x2="677.3" y2="415.79999999999995" stroke="#555" stroke-width="0.8"/><line x1="666.8" y1="418.2" x2="677.3" y2="418.2" stroke="#555" stroke-width="0.8"/><line x1="666.8" y1="420.59999999999997" x2="677.3" y2="420.59999999999997" stroke="#555" stroke-width="0.8"/><line x1="670.3" y1="413.4" x2="670.3" y2="423" stroke="#555" stroke-width="0.8"/><line x1="673.8" y1="413.4" x2="673.8" y2="423" stroke="#555" stroke-width="0.8"/><line x1="566.4" y1="347" x2="566.4" y2="360" stroke="#555" stroke-width="1"/><line x1="642" y1="346" x2="642" y2="358" stroke="#555" stroke-width="1"/><line x1="642" y1="372" x2="642" y2="390" stroke="#555" stroke-width="1"/><line x1="579" y1="468.5" x2="820" y2="468.5" stroke="#666" stroke-width="1.2"/><line x1="860.5" y1="468.5" x2="1018.7" y2="468.5" stroke="#666" stroke-width="1.2"/><line x1="585" y1="454.3" x2="820" y2="454.3" stroke="#666" stroke-width="1.1"/><line x1="860.5" y1="454.3" x2="1018.7" y2="454.3" stroke="#666" stroke-width="1.1"/><line x1="860.5" y1="339" x2="860.5" y2="468.5" stroke="#777" stroke-width="1.6"/><rect x="864" y="265.5" width="31" height="73.5" fill="none" stroke="#666" stroke-width="1.1"/><rect x="865" y="280.4" width="28" height="20.600000000000023" fill="none" stroke="#707070" stroke-width="1"/><line x1="865" y1="280.4" x2="893" y2="301" stroke="#707070" stroke-width="0.8"/><line x1="865" y1="301" x2="893" y2="280.4" stroke="#707070" stroke-width="0.8"/><rect x="865" y="314" width="28" height="19.69999999999999" fill="none" stroke="#707070" stroke-width="1"/><line x1="865" y1="314" x2="893" y2="333.7" stroke="#707070" stroke-width="0.8"/><line x1="865" y1="333.7" x2="893" y2="314" stroke="#707070" stroke-width="0.8"/><line x1="865" y1="277" x2="893" y2="277" stroke="#666" stroke-width="1"/><line x1="853" y1="291" x2="868" y2="291" stroke="#555" stroke-width="1"/><line x1="853" y1="324" x2="868" y2="324" stroke="#555" stroke-width="1"/><rect x="901.4" y="265.5" width="36.0" height="188.8" fill="none" stroke="#666" stroke-width="1.1"/><line x1="901.4" y1="284" x2="937.4" y2="284" stroke="#666" stroke-width="1"/><text x="1506.56" y="274.4" transform="scale(0.61,1)" font-size="9.8" text-anchor="middle" fill="#333" stroke="#333" stroke-width="0.35">20</text><text x="1506.56" y="281.9" transform="scale(0.61,1)" font-size="9.8" text-anchor="middle" fill="#333" stroke="#333" stroke-width="0.35">6.6</text><line x1="913.843975" y1="274.6" x2="924.156025" y2="274.6" stroke="#555" stroke-width="0.8"/><line x1="919" y1="284" x2="919" y2="292" stroke="#555" stroke-width="1"/><line x1="920" y1="306.6" x2="937.4" y2="306.6" stroke="#666" stroke-width="0.7"/><line x1="920" y1="309.90000000000003" x2="937.4" y2="309.90000000000003" stroke="#666" stroke-width="0.7"/><line x1="920" y1="313.20000000000005" x2="937.4" y2="313.20000000000005" stroke="#666" stroke-width="0.7"/><line x1="920" y1="316.5" x2="937.4" y2="316.5" stroke="#666" stroke-width="0.7"/><line x1="920" y1="319.8" x2="937.4" y2="319.8" stroke="#666" stroke-width="0.7"/><line x1="920" y1="323.1" x2="937.4" y2="323.1" stroke="#666" stroke-width="0.7"/><line x1="920" y1="326.40000000000003" x2="937.4" y2="326.40000000000003" stroke="#666" stroke-width="0.7"/><line x1="920" y1="329.70000000000005" x2="937.4" y2="329.70000000000005" stroke="#666" stroke-width="0.7"/><line x1="920" y1="333.0" x2="937.4" y2="333.0" stroke="#666" stroke-width="0.7"/><line x1="920" y1="336.3" x2="937.4" y2="336.3" stroke="#666" stroke-width="0.7"/><line x1="920" y1="339.6" x2="937.4" y2="339.6" stroke="#666" stroke-width="0.7"/><line x1="920" y1="342.90000000000003" x2="937.4" y2="342.90000000000003" stroke="#666" stroke-width="0.7"/><line x1="920" y1="346.20000000000005" x2="937.4" y2="346.20000000000005" stroke="#666" stroke-width="0.7"/><line x1="920" y1="349.5" x2="937.4" y2="349.5" stroke="#666" stroke-width="0.7"/><line x1="920" y1="352.8" x2="937.4" y2="352.8" stroke="#666" stroke-width="0.7"/><line x1="920" y1="356.1" x2="937.4" y2="356.1" stroke="#666" stroke-width="0.7"/><line x1="901.4" y1="320.6" x2="920" y2="320.6" stroke="#666" stroke-width="0.7"/><line x1="901.4" y1="323.90000000000003" x2="920" y2="323.90000000000003" stroke="#666" stroke-width="0.7"/><line x1="901.4" y1="327.20000000000005" x2="920" y2="327.20000000000005" stroke="#666" stroke-width="0.7"/><line x1="901.4" y1="330.5" x2="920" y2="330.5" stroke="#666" stroke-width="0.7"/><line x1="901.4" y1="333.8" x2="920" y2="333.8" stroke="#666" stroke-width="0.7"/><line x1="901.4" y1="337.1" x2="920" y2="337.1" stroke="#666" stroke-width="0.7"/><line x1="901.4" y1="340.40000000000003" x2="920" y2="340.40000000000003" stroke="#666" stroke-width="0.7"/><line x1="901.4" y1="343.70000000000005" x2="920" y2="343.70000000000005" stroke="#666" stroke-width="0.7"/><line x1="901.4" y1="347.0" x2="920" y2="347.0" stroke="#666" stroke-width="0.7"/><line x1="901.4" y1="350.3" x2="920" y2="350.3" stroke="#666" stroke-width="0.7"/><line x1="901.4" y1="353.6" x2="920" y2="353.6" stroke="#666" stroke-width="0.7"/><line x1="901.4" y1="356.90000000000003" x2="920" y2="356.90000000000003" stroke="#666" stroke-width="0.7"/><line x1="920" y1="306.6" x2="920" y2="359" stroke="#666" stroke-width="1"/><line x1="901.4" y1="359" x2="937.4" y2="359" stroke="#666" stroke-width="1"/><line x1="901.4" y1="286" x2="937.4" y2="286" stroke="#666" stroke-width="1"/><line x1="910.8" y1="321" x2="910.8" y2="358" stroke="#666" stroke-width="0.8"/><line x1="928.4" y1="308" x2="928.4" y2="358" stroke="#666" stroke-width="0.8"/><text x="1506.56" y="371.4" transform="scale(0.61,1)" font-size="9.8" text-anchor="middle" fill="#333" stroke="#333" stroke-width="0.35">21</text><text x="1506.56" y="378.9" transform="scale(0.61,1)" font-size="9.8" text-anchor="middle" fill="#333" stroke="#333" stroke-width="0.35">24.6</text><line x1="912.1253" y1="371.6" x2="925.8747" y2="371.6" stroke="#555" stroke-width="0.8"/><line x1="901.4" y1="383" x2="937.4" y2="383" stroke="#666" stroke-width="1"/><line x1="901.4" y1="387" x2="937.4" y2="387" stroke="#666" stroke-width="1"/><text x="1507.21" y="420.4" transform="scale(0.61,1)" font-size="9.8" text-anchor="middle" fill="#333" stroke="#333" stroke-width="0.35">29</text><text x="1507.21" y="427.9" transform="scale(0.61,1)" font-size="9.8" text-anchor="middle" fill="#333" stroke="#333" stroke-width="0.35">18.2</text><line x1="912.5253" y1="420.6" x2="926.2746999999999" y2="420.6" stroke="#555" stroke-width="0.8"/><line x1="911.4" y1="454.3" x2="911.4" y2="468.5" stroke="#666" stroke-width="1"/><line x1="926" y1="454.3" x2="926" y2="468.5" stroke="#666" stroke-width="1"/><line x1="919" y1="448" x2="919" y2="474" stroke="#555" stroke-width="1"/><rect x="942.5" y="265.5" width="36.5" height="73.5" fill="none" stroke="#666" stroke-width="1.1"/><line x1="942.5" y1="302" x2="979" y2="302" stroke="#666" stroke-width="1"/><line x1="942.5" y1="304" x2="979" y2="304" stroke="#666" stroke-width="1"/><rect x="946" y="304" width="28" height="20" fill="none" stroke="#707070" stroke-width="1"/><line x1="946" y1="304" x2="974" y2="324" stroke="#707070" stroke-width="0.8"/><line x1="946" y1="324" x2="974" y2="304" stroke="#707070" stroke-width="0.8"/><text x="1574.59" y="285.4" transform="scale(0.61,1)" font-size="9.8" text-anchor="middle" fill="#333" stroke="#333" stroke-width="0.35">22</text><text x="1574.59" y="292.9" transform="scale(0.61,1)" font-size="9.8" text-anchor="middle" fill="#333" stroke="#333" stroke-width="0.35">11.0</text><line x1="953.6253" y1="285.6" x2="967.3747" y2="285.6" stroke="#555" stroke-width="0.8"/><line x1="960" y1="298" x2="960" y2="311" stroke="#555" stroke-width="1"/><rect x="942.3" y="343" width="36.700000000000045" height="111.30000000000001" fill="none" stroke="#666" stroke-width="1.1"/><line x1="961.3" y1="343" x2="961.3" y2="372" stroke="#666" stroke-width="1.6"/><line x1="957" y1="372.5" x2="966" y2="372.5" stroke="#666" stroke-width="1.6"/><polyline points="961.3,347 979,347" fill="none" stroke="#666" stroke-width="1" stroke-linejoin="miter"/><line x1="942.3" y1="372" x2="946" y2="372" stroke="#666" stroke-width="1"/><line x1="976" y1="372" x2="979" y2="372" stroke="#666" stroke-width="1"/><text x="1357.86" y="359" transform="scale(0.7,1)" font-size="8.4" text-anchor="middle" fill="#333" stroke="#333" stroke-width="0.25">31</text><text x="1385.00" y="362" transform="scale(0.7,1)" font-size="8.4" text-anchor="middle" fill="#333" stroke="#333" stroke-width="0.25">32</text><text x="1573.77" y="415.4" transform="scale(0.61,1)" font-size="9.8" text-anchor="middle" fill="#333" stroke="#333" stroke-width="0.35">30</text><text x="1573.77" y="422.9" transform="scale(0.61,1)" font-size="9.8" text-anchor="middle" fill="#333" stroke="#333" stroke-width="0.35">22.0</text><line x1="953.1253" y1="415.6" x2="966.8747" y2="415.6" stroke="#555" stroke-width="0.8"/><line x1="952.5" y1="454.3" x2="952.5" y2="468.5" stroke="#666" stroke-width="1"/><line x1="966" y1="454.3" x2="966" y2="468.5" stroke="#666" stroke-width="1"/><line x1="960" y1="448" x2="960" y2="474" stroke="#555" stroke-width="1"/><rect x="862.4" y="342" width="21.600000000000023" height="93.60000000000002" fill="none" stroke="#666" stroke-width="1.1"/><rect x="863" y="342" width="8.5" height="13" fill="none" stroke="#666" stroke-width="1"/><rect x="863" y="357" width="8.5" height="17" fill="none" stroke="#666" stroke-width="1"/><line x1="872.4" y1="342" x2="872.4" y2="375.5" stroke="#666" stroke-width="1.1"/><line x1="862.4" y1="375.5" x2="872.4" y2="375.5" stroke="#666" stroke-width="1.1"/><rect x="885.5" y="342" width="9.200000000000045" height="32" fill="none" stroke="#666" stroke-width="1.0"/><rect x="885.5" y="375.5" width="9.200000000000045" height="60.10000000000002" fill="none" stroke="#666" stroke-width="1.0"/><polyline points="886.5,343 886,373" fill="none" stroke="#666" stroke-width="1" stroke-linejoin="miter"/><polyline points="886.5,377 889,376" fill="none" stroke="#666" stroke-width="1" stroke-linejoin="miter"/><text x="1432.13" y="395.4" transform="scale(0.61,1)" font-size="9.8" text-anchor="middle" fill="#333" stroke="#333" stroke-width="0.35">24</text><text x="1432.13" y="402.9" transform="scale(0.61,1)" font-size="9.8" text-anchor="middle" fill="#333" stroke="#333" stroke-width="0.35">22.1</text><line x1="866.7253000000001" y1="395.6" x2="880.4747" y2="395.6" stroke="#555" stroke-width="0.8"/><rect x="862.4" y="437.4" width="32.30000000000007" height="16.900000000000034" fill="none" stroke="#666" stroke-width="1.1"/><polyline points="864,453 885,450 894,440" fill="none" stroke="#666" stroke-width="1" stroke-linejoin="miter"/><line x1="857" y1="348.7" x2="866" y2="348.7" stroke="#555" stroke-width="1"/><line x1="857" y1="364.6" x2="866" y2="364.6" stroke="#555" stroke-width="1"/><line x1="855" y1="406.3" x2="867" y2="406.3" stroke="#555" stroke-width="1"/><line x1="895.5" y1="339" x2="895.5" y2="454.3" stroke="#666" stroke-width="1.2"/><rect x="984.5" y="265.5" width="32.5" height="188.8" fill="none" stroke="#666" stroke-width="1.1"/><polyline points="986,268 992,355 1016,358" fill="none" stroke="#666" stroke-width="1" stroke-linejoin="miter"/><line x1="984.5" y1="358.4" x2="1042" y2="358.4" stroke="#777" stroke-width="1.6"/><line x1="1030" y1="354" x2="1030" y2="364" stroke="#555" stroke-width="1"/><polyline points="986,361 990,385 1016,390" fill="none" stroke="#666" stroke-width="1" stroke-linejoin="miter"/><rect x="984.5" y="393" width="31.5" height="45.5" fill="none" stroke="#666" stroke-width="1.1"/><text x="1639.34" y="415.4" transform="scale(0.61,1)" font-size="9.8" text-anchor="middle" fill="#333" stroke="#333" stroke-width="0.35">23</text><text x="1639.34" y="422.9" transform="scale(0.61,1)" font-size="9.8" text-anchor="middle" fill="#333" stroke="#333" stroke-width="0.35">11.6</text><line x1="993.1253" y1="415.6" x2="1006.8747" y2="415.6" stroke="#555" stroke-width="0.8"/><line x1="984.5" y1="440" x2="1016" y2="440" stroke="#666" stroke-width="1"/><polyline points="986,453 990,445 1015,442" fill="none" stroke="#666" stroke-width="1" stroke-linejoin="miter"/><line x1="1012" y1="290" x2="1025" y2="290" stroke="#555" stroke-width="1"/><line x1="1010" y1="383" x2="1024" y2="383" stroke="#555" stroke-width="1"/><line x1="1010" y1="428" x2="1024" y2="428" stroke="#555" stroke-width="1"/><text x="842.5" y="46" font-size="17" text-anchor="middle" fill="#111" stroke="#111" stroke-width="0.5">Афимолл. Север</text><text x="843.5" y="698" font-size="17" text-anchor="middle" fill="#111" stroke="#111" stroke-width="0.5">Река. Юг</text><text transform="translate(427.5,378.5) rotate(-90)" font-size="17" text-anchor="middle" fill="#111" stroke="#111" stroke-width="0.5">Башня Город Столиц. Запад</text><text transform="translate(1262,395.5) rotate(-90)" font-size="17" text-anchor="middle" fill="#111" stroke="#111" stroke-width="0.5">Башня Эволюция. Восток</text></svg></body></html>
